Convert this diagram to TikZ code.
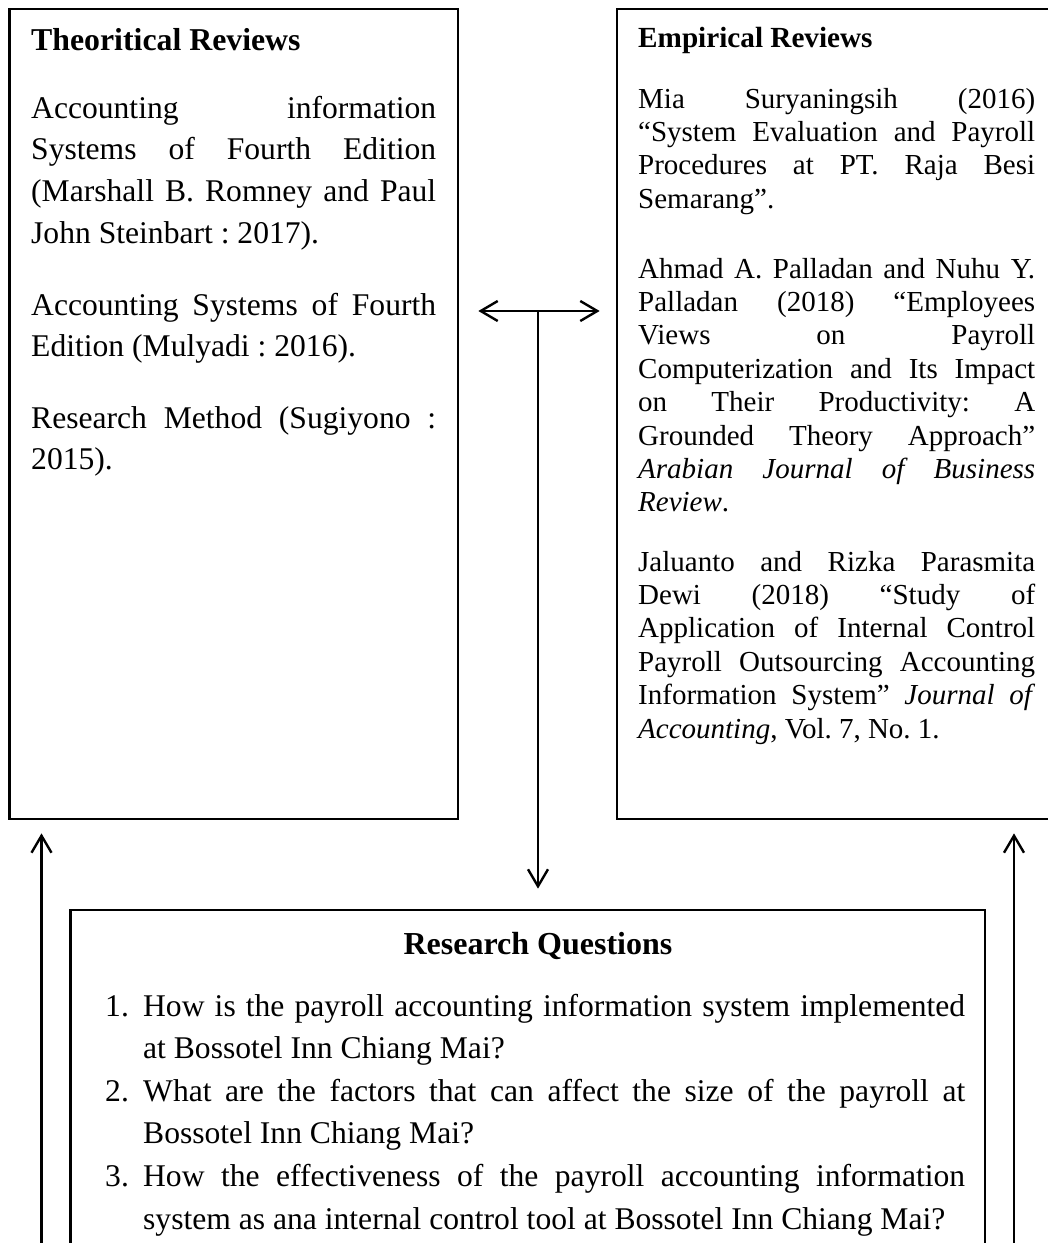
\documentclass[tikz,border=0pt]{standalone}
\usepackage{fontspec}
\setmainfont{Liberation Serif}
\usetikzlibrary{arrows.meta}
\hbadness=10000
\tolerance=10000
\hyphenpenalty=10000
\exhyphenpenalty=10000
\frenchspacing
\begin{document}
\begin{tikzpicture}[x=1pt,y=-1pt,
  >={Straight Barb[length=17pt,width=20pt]},
  panel/.style={draw,line width=2.7pt,rectangle,inner sep=0pt},
  link/.style={line width=2.4pt},
  bigtext/.style={anchor=base west,inner sep=0pt,text width=#1,align=justify,
    font=\fontsize{31.6}{41.7}\selectfont},
  smalltext/.style={anchor=base west,inner sep=0pt,text width=#1,align=justify,
    font=\fontsize{29}{33.4}\selectfont},
]
\useasboundingbox (0,0) rectangle (1048,1243);
\clip (0,0) rectangle (1048,1243);

% frames of the three panels
\node[panel,minimum width=448.5pt,minimum height=810pt] (theo) at (233.75,414) {};
\node[panel,minimum width=443pt,minimum height=810pt] (emp) at (838.5,414) {};
\node[panel,minimum width=914.5pt,minimum height=350pt] (rq) at (527.75,1085) {};

% theoretical reviews
\node[anchor=base west,inner sep=0pt,font=\fontsize{31.8}{41.7}\selectfont\bfseries] (theotitle) at (31,50) {Theoritical Reviews};
\node[bigtext=405pt] (theoa) at (31,118) {Accounting information\linebreak Systems of Fourth Edition\linebreak (Marshall B. Romney and Paul\linebreak John Steinbart : 2017).};
\node[bigtext=405pt] (theob) at (31,315) {Accounting Systems of Fourth\linebreak Edition (Mulyadi : 2016).};
\node[bigtext=405pt] (theoc) at (31,428) {Research Method (Sugiyono :\linebreak 2015).};

% empirical reviews
\node[anchor=base west,inner sep=0pt,font=\fontsize{29.2}{33.4}\selectfont\bfseries] (emptitle) at (638,47) {Empirical Reviews};
\node[smalltext=397pt] (empa) at (638,108) {Mia Suryaningsih (2016)\linebreak “System Evaluation and Payroll\linebreak Procedures at PT. Raja Besi\linebreak Semarang”.};
\node[smalltext=397pt] (empb) at (638,278) {Ahmad A. Palladan and Nuhu Y.\linebreak Palladan (2018) “Employees\linebreak Views on Payroll\linebreak Computerization and Its Impact\linebreak on Their Productivity: A\linebreak Grounded Theory Approach”\linebreak \textit{Arabian Journal of Business}\linebreak \textit{Review}.};
\node[smalltext=397pt] (empc) at (638,571) {Jaluanto and Rizka Parasmita\linebreak Dewi (2018) “Study of\linebreak Application of Internal Control\linebreak Payroll Outsourcing Accounting\linebreak Information System” \textit{Journal of}\linebreak \textit{Accounting}, Vol. 7, No. 1.};

% research questions
\node[anchor=base,inner sep=0pt,font=\fontsize{32}{41.7}\selectfont\bfseries] (rqtitle) at (538,954) {Research Questions};
\node[anchor=base west,inner sep=0pt,text width=860pt,align=justify,
  font=\fontsize{31.6}{42.6}\selectfont] (rqlist) at (105,1016) {%
\hangindent=38pt\hangafter=1\makebox[38pt][l]{1.}How is the payroll accounting information system implemented\linebreak at Bossotel Inn Chiang Mai?\par
\hangindent=38pt\hangafter=1\makebox[38pt][l]{2.}What are the factors that can affect the size of the payroll at\linebreak Bossotel Inn Chiang Mai?\par
\hangindent=38pt\hangafter=1\makebox[38pt][l]{3.}How the effectiveness of the payroll accounting information\linebreak system as ana internal control tool at Bossotel Inn Chiang Mai?\par};

% connectors
\coordinate (j) at (538,311);
\draw[link,<->] ([xshift=19pt]theo.east |- j) -- ([xshift=-16pt]emp.west |- j);
\draw[link,->] (j) -- ([yshift=20pt]rq.north -| j);
\coordinate (lfoot) at (41.5,1260);
\coordinate (rfoot) at (1014,1260);
\draw[link,->] (lfoot) -- ([yshift=-13pt]lfoot |- theo.south);
\draw[link,->] (rfoot) -- ([yshift=-13pt]rfoot |- emp.south);
\end{tikzpicture}
\end{document}
